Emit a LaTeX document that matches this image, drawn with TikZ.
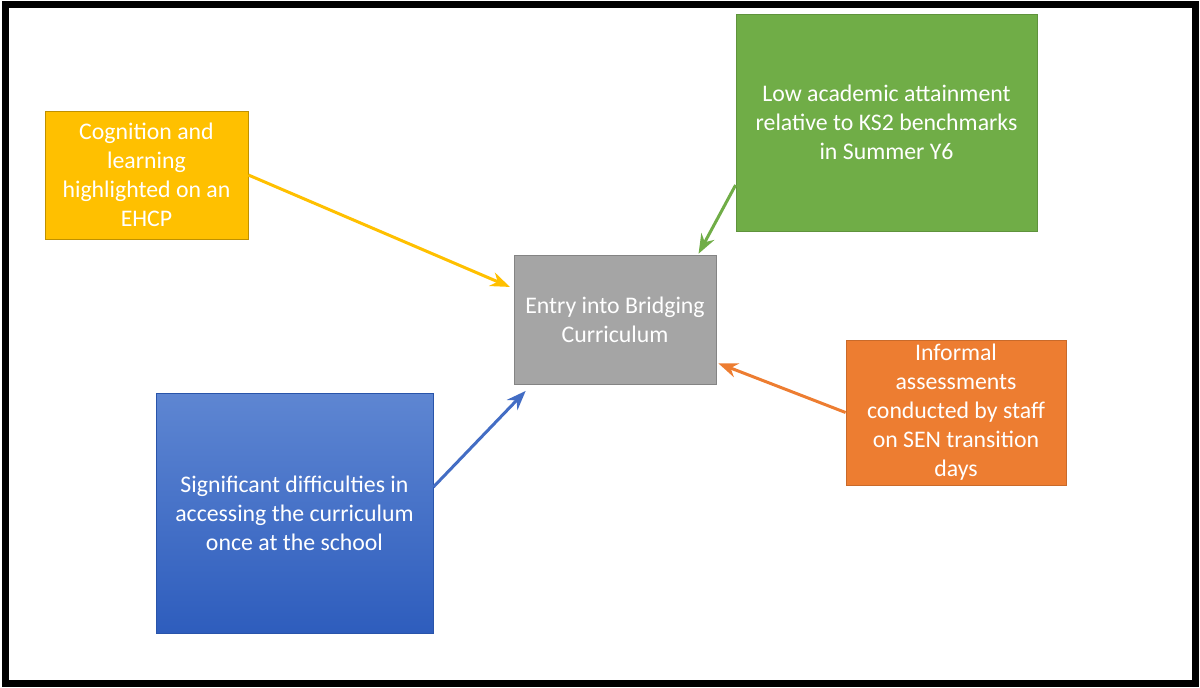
\documentclass[tikz,border=0pt]{standalone}
\usepackage{fontspec}
\setmainfont{Carlito}
\usepackage{tikz}
\usetikzlibrary{arrows.meta,calc}

\definecolor{cogyellow}{HTML}{FFC000}
\definecolor{lowgreen}{HTML}{70AD47}
\definecolor{entrygray}{HTML}{A5A5A5}
\definecolor{infoorange}{HTML}{ED7D31}
\definecolor{sigbluetop}{HTML}{5E86D2}
\definecolor{sigbluebot}{HTML}{2E5DBD}

\begin{document}
\begin{tikzpicture}[
    x=0.5pt, y=-0.5pt,
    >=Stealth,
    box/.style={text=white, align=center, inner sep=2pt, font=\fontsize{11.9}{14.5}\selectfont, thin},
    link/.style={line width=1.5pt, ->, shorten >=2pt},
]

% ========== Frame ==========
\useasboundingbox (0,0) rectangle (1200,687);
\draw[line width=3.5pt] (5.5,4.5) rectangle (1195.5,683);

% ========== Boxes ==========
\node[box, fill=cogyellow, draw=cogyellow!75!black, minimum width=101.5pt, minimum height=64pt] (cog) at (146.5,175)
    {Cognition and\\learning\\highlighted on an\\EHCP};
\node[box, fill=lowgreen, draw=lowgreen!85!black, minimum width=150.5pt, minimum height=108.5pt] (low) at (886.5,122.5)
    {Low academic attainment\\relative to KS2 benchmarks\\in Summer Y6};
\node[box, fill=entrygray, draw=entrygray!80!black, minimum width=101pt, minimum height=64.5pt] (entry) at (615,319.5)
    {Entry into Bridging\\Curriculum};
\node[box, fill=infoorange, draw=infoorange!85!black, minimum width=110pt, minimum height=72.5pt] (info) at (956,412.5)
    {Informal\\assessments\\conducted by staff\\on SEN transition\\days};
\node[box, top color=sigbluetop, bottom color=sigbluebot, draw=sigbluebot!90!black, minimum width=138.5pt, minimum height=120pt] (sig) at (294.5,513)
    {Significant difficulties in\\accessing the curriculum\\once at the school};

% ========== Arrows ==========
\draw[link, cogyellow] (cog.east) -- (entry.163);
\draw[link, lowgreen, shorten >=0.5pt] ($(low.west)+(0,62.5)$) -- (entry.38);
\draw[link, sigbluebot!90!white, shorten >=4.5pt] ($(sig.east)+(0,-26)$) -- (entry.218);
\draw[link, infoorange, shorten >=1pt] (info.west) -- (entry.337);

\end{tikzpicture}
\end{document}
